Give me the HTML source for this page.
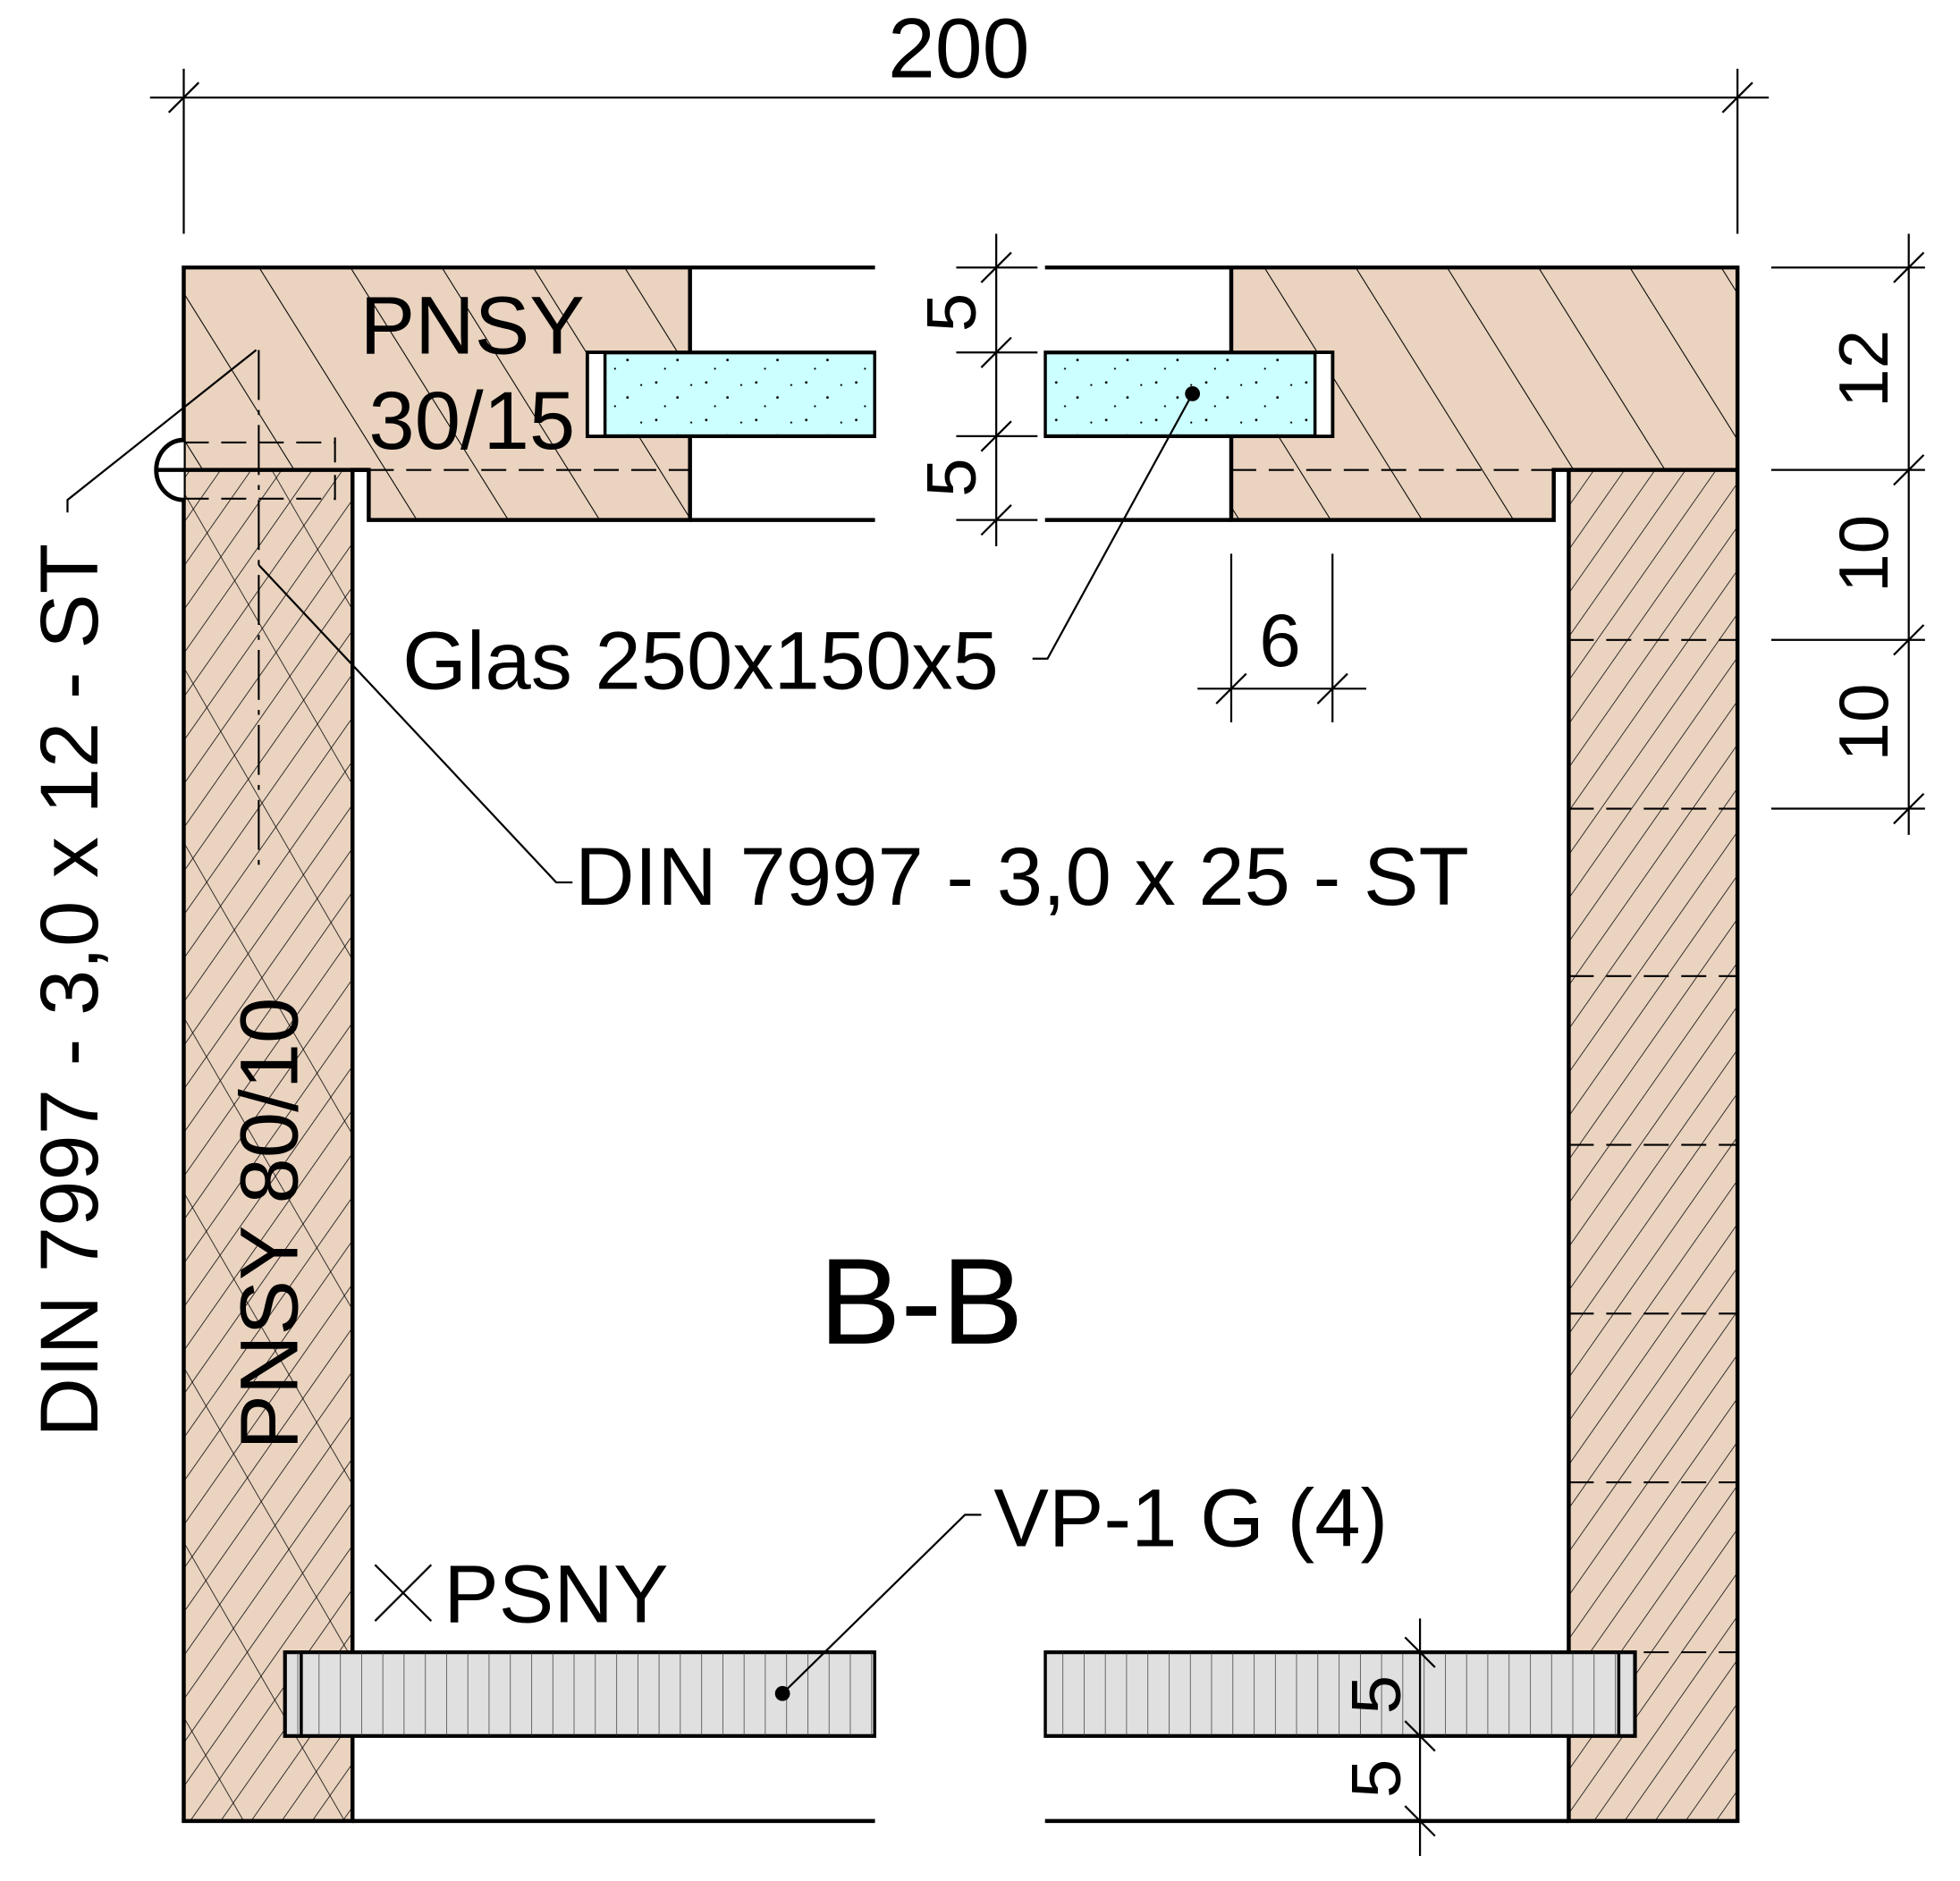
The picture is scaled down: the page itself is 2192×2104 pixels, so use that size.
<!DOCTYPE html>
<html><head><meta charset="utf-8"><style>
html,body{margin:0;padding:0;background:#fff;}
svg{display:block;}
text{font-family:"Liberation Sans",sans-serif;fill:#000;}
</style></head><body>
<svg width="2192" height="2104" viewBox="0 0 1568 1505" xmlns="http://www.w3.org/2000/svg">
<defs>
<pattern id="hb" patternUnits="userSpaceOnUse" width="62" height="62" patternTransform="rotate(-32)">
<line x1="0" y1="0" x2="0" y2="62" stroke="#000" stroke-width="1.5"/></pattern>
<pattern id="hf" patternUnits="userSpaceOnUse" width="20" height="20" patternTransform="rotate(35)">
<line x1="0" y1="0" x2="0" y2="20" stroke="#000" stroke-width="1.1"/></pattern>
<pattern id="hf2" patternUnits="userSpaceOnUse" width="70" height="70" patternTransform="rotate(-30)">
<line x1="0" y1="0" x2="0" y2="70" stroke="#000" stroke-width="1.1"/></pattern>
<pattern id="gl" patternUnits="userSpaceOnUse" width="40" height="30">
<circle cx="5" cy="6" r="1" fill="#000"/><circle cx="22" cy="18" r="1" fill="#000"/><circle cx="33" cy="8" r="0.8" fill="#000"/><circle cx="12" cy="25" r="0.8" fill="#000"/></pattern>
<pattern id="vp" patternUnits="userSpaceOnUse" width="17" height="70">
<line x1="0" y1="0" x2="0" y2="70" stroke="#333" stroke-width="1"/></pattern>
</defs>
<rect width="1568" height="1505" fill="#fff"/>
<polygon points="147,214 552,214 552,416 295,416 295,376 282,376 282,1457 147,1457" fill="#ead3bf"/>
<polygon points="985,214 1390,214 1390,1457 1255,1457 1255,376 1243,376 1243,416 985,416" fill="#ead3bf"/>
<polygon points="147,214 552,214 552,416 295,416 295,376 147,376" fill="url(#hb)"/>
<polygon points="985,214 1390,214 1390,376 1243,376 1243,416 985,416" fill="url(#hb)"/>
<rect x="147" y="376" width="135" height="1081" fill="url(#hf)"/>
<rect x="1255" y="376" width="135" height="1081" fill="url(#hf)"/>
<rect x="147" y="376" width="135" height="1081" fill="url(#hf2)"/>
<polygon points="147,214 552,214 552,416 295,416 295,376 282,376 282,1457 147,1457" fill="none" stroke="#000" stroke-width="3.2"/>
<polygon points="985,214 1390,214 1390,1457 1255,1457 1255,376 1243,376 1243,416 985,416" fill="none" stroke="#000" stroke-width="3.2"/>
<g stroke="#000" stroke-width="3.2">
<line x1="552" y1="214" x2="700" y2="214"/><line x1="836" y1="214" x2="985" y2="214"/>
<line x1="552" y1="416" x2="700" y2="416"/><line x1="836" y1="416" x2="985" y2="416"/>
<line x1="282" y1="1457" x2="700" y2="1457"/><line x1="836" y1="1457" x2="1255" y2="1457"/>
<line x1="1255" y1="376" x2="1390" y2="376"/>
</g>
<g stroke="#000" stroke-width="1.5" stroke-dasharray="20,10" fill="none">
<line x1="295" y1="376" x2="552" y2="376"/><line x1="985" y1="376" x2="1243" y2="376"/>
<line x1="147" y1="354" x2="268" y2="354"/><line x1="147" y1="399" x2="268" y2="399"/>
<line x1="268" y1="350" x2="268" y2="400"/>
<line x1="1255" y1="512" x2="1390" y2="512"/><line x1="1255" y1="647" x2="1390" y2="647"/>
<line x1="1255" y1="781" x2="1390" y2="781"/><line x1="1255" y1="916" x2="1390" y2="916"/>
<line x1="1255" y1="1051" x2="1390" y2="1051"/><line x1="1255" y1="1186" x2="1390" y2="1186"/>
<line x1="1255" y1="1322" x2="1390" y2="1322"/>
<line x1="207" y1="280" x2="207" y2="700" stroke-dasharray="40,8,4,8"/>
</g>
<path d="M147,352 A22,24 0 0 0 147,400" fill="#fff" stroke="#000" stroke-width="3.5"/>
<line x1="125" y1="376" x2="295" y2="376" stroke="#000" stroke-width="3.2"/>
<rect x="470" y="282" width="230" height="67" fill="#ccffff" stroke="#000" stroke-width="3"/>
<rect x="470" y="282" width="14" height="67" fill="#fff" stroke="#000" stroke-width="2.5"/>
<rect x="486" y="284" width="212" height="63" fill="url(#gl)"/>
<rect x="836" y="282" width="230" height="67" fill="#ccffff" stroke="#000" stroke-width="3"/>
<rect x="1052" y="282" width="14" height="67" fill="#fff" stroke="#000" stroke-width="2.5"/>
<rect x="838" y="284" width="212" height="63" fill="url(#gl)"/>
<rect x="701" y="278" width="134" height="76" fill="#fff"/>
<rect x="228" y="1322" width="472" height="67" fill="#e0e0e0" stroke="#000" stroke-width="3"/>
<rect x="228" y="1322" width="472" height="67" fill="url(#vp)"/>
<rect x="836" y="1322" width="472" height="67" fill="#e0e0e0" stroke="#000" stroke-width="3"/>
<rect x="836" y="1322" width="472" height="67" fill="url(#vp)"/>
<line x1="241" y1="1322" x2="241" y2="1389" stroke="#000" stroke-width="2.5"/>
<line x1="1295" y1="1322" x2="1295" y2="1389" stroke="#000" stroke-width="2.5"/>
<rect x="701" y="1318" width="134" height="75" fill="#fff"/>
<g stroke="#000" stroke-width="1.6" fill="none">
<line x1="120" y1="78" x2="1415" y2="78"/>
<line x1="147" y1="55" x2="147" y2="187"/><line x1="1390" y1="55" x2="1390" y2="187"/>
<line x1="135" y1="90" x2="159" y2="66"/><line x1="1378" y1="90" x2="1402" y2="66"/>
<line x1="797" y1="187" x2="797" y2="437"/>
<line x1="765" y1="214" x2="830" y2="214"/><line x1="765" y1="282" x2="830" y2="282"/>
<line x1="765" y1="349" x2="830" y2="349"/><line x1="765" y1="416" x2="830" y2="416"/>
<line x1="785" y1="226" x2="809" y2="202"/><line x1="785" y1="294" x2="809" y2="270"/>
<line x1="785" y1="361" x2="809" y2="337"/><line x1="785" y1="428" x2="809" y2="404"/>
<line x1="1527" y1="187" x2="1527" y2="668"/>
<line x1="1417" y1="214" x2="1540" y2="214"/><line x1="1417" y1="376" x2="1540" y2="376"/>
<line x1="1417" y1="512" x2="1540" y2="512"/><line x1="1417" y1="647" x2="1540" y2="647"/>
<line x1="1515" y1="226" x2="1539" y2="202"/><line x1="1515" y1="388" x2="1539" y2="364"/>
<line x1="1515" y1="524" x2="1539" y2="500"/><line x1="1515" y1="659" x2="1539" y2="635"/>
<line x1="958" y1="551" x2="1093" y2="551"/>
<line x1="985" y1="443" x2="985" y2="578"/><line x1="1066" y1="443" x2="1066" y2="578"/>
<line x1="973" y1="563" x2="997" y2="539"/><line x1="1054" y1="563" x2="1078" y2="539"/>
<line x1="1136" y1="1295" x2="1136" y2="1485"/>
<line x1="1115" y1="1322" x2="1150" y2="1322"/><line x1="1115" y1="1389" x2="1150" y2="1389"/>
<line x1="1115" y1="1457" x2="1150" y2="1457"/>
<line x1="1124" y1="1310" x2="1148" y2="1334"/><line x1="1124" y1="1377" x2="1148" y2="1401"/>
<line x1="1124" y1="1445" x2="1148" y2="1469"/>
<polyline points="54,410 54,400 205,280"/>
<polyline points="207,452 445,706 458,706"/>
<polyline points="954,315 838,527 826,527"/>
<polyline points="626,1355 772,1212 785,1212"/>
<line x1="300" y1="1252" x2="345" y2="1297"/><line x1="300" y1="1297" x2="345" y2="1252"/>
</g>
<circle cx="954" cy="315" r="6" fill="#000"/>
<circle cx="626" cy="1355" r="6" fill="#000"/>
<rect x="22" y="412" width="64" height="740" fill="#fff"/>
<rect x="318" y="500" width="486" height="60" fill="#fff"/>
<text x="767" y="62" font-size="68" text-anchor="middle">200</text>
<text x="288" y="283" font-size="66">PNSY</text>
<text x="295" y="359" font-size="66">30/15</text>
<text transform="translate(780,250) rotate(-90)" font-size="56" text-anchor="middle">5</text>
<text transform="translate(780,382) rotate(-90)" font-size="56" text-anchor="middle">5</text>
<text transform="translate(1510,295) rotate(-90)" font-size="56" text-anchor="middle">12</text>
<text transform="translate(1510,443) rotate(-90)" font-size="56" text-anchor="middle">10</text>
<text transform="translate(1510,578) rotate(-90)" font-size="56" text-anchor="middle">10</text>
<text x="1024" y="533" font-size="60" text-anchor="middle">6</text>
<text x="322" y="551" font-size="66">Glas 250x150x5</text>
<text x="460" y="724" font-size="66">DIN 7997 - 3,0 x 25 - ST</text>
<text transform="translate(78,1150) rotate(-90)" font-size="66">DIN 7997 - 3,0 x 12 - ST</text>
<text transform="translate(238,1160) rotate(-90)" font-size="66">PNSY 80/10</text>
<text x="737" y="1075" font-size="98" text-anchor="middle">B-B</text>
<text x="795" y="1237" font-size="66">VP-1 G (4)</text>
<text x="355" y="1298" font-size="66">PSNY</text>
<text transform="translate(1120,1356) rotate(-90)" font-size="56" text-anchor="middle">5</text>
<text transform="translate(1120,1423) rotate(-90)" font-size="56" text-anchor="middle">5</text>
</svg>
</body></html>
